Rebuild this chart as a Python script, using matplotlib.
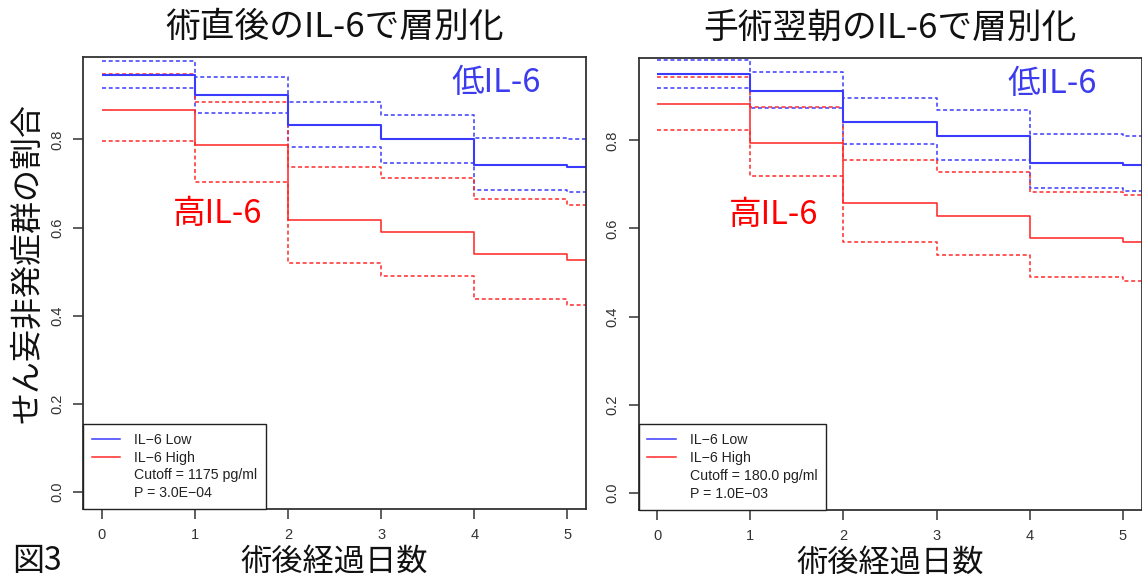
import matplotlib
matplotlib.use("Agg")
import matplotlib.pyplot as plt
from matplotlib.lines import Line2D

plt.rcParams['font.family'] = ['Noto Sans CJK JP', 'DejaVu Sans']

# ---- data ----
days = [0, 1, 2, 3, 4, 5, 5.3]

titles = ["術直後のIL-6で層別化", "手術翌朝のIL-6で層別化"]
cutoff_texts = ["Cutoff = 1175 pg/ml", "Cutoff = 180.0 pg/ml"]
p_texts = ["P = 3.0E\u221204", "P = 1.0E\u221203"]

# panel 1 (immediately after surgery)
p1_low = [0.947, 0.900, 0.832, 0.800, 0.743, 0.737]
p1_low_up = [0.978, 0.941, 0.885, 0.856, 0.804, 0.800]
p1_low_lo = [0.917, 0.861, 0.784, 0.747, 0.685, 0.680]
p1_high = [0.867, 0.788, 0.617, 0.591, 0.540, 0.526]
p1_high_up = [0.948, 0.886, 0.738, 0.713, 0.664, 0.651]
p1_high_lo = [0.796, 0.703, 0.519, 0.491, 0.438, 0.425]

# panel 2 (next morning)
p2_low = [0.951, 0.913, 0.842, 0.809, 0.749, 0.745]
p2_low_up = [0.982, 0.955, 0.896, 0.868, 0.814, 0.810]
p2_low_lo = [0.920, 0.873, 0.791, 0.755, 0.691, 0.686]
p2_high = [0.882, 0.794, 0.657, 0.629, 0.579, 0.570]
p2_high_up = [0.945, 0.876, 0.755, 0.729, 0.683, 0.675]
p2_high_lo = [0.823, 0.720, 0.570, 0.540, 0.489, 0.480]

yticks = [0.0, 0.2, 0.4, 0.6, 0.8]
xticks = [0, 1, 2, 3, 4, 5]

BLUE = '#3b3bff'
RED = '#ff2a2a'
TXT_BLUE = '#3c3cee'
TXT_RED = '#ff0000'

fig = plt.figure(figsize=(11.42, 5.80), dpi=100)
axes_pos = [[83/1142, 1-509/580, 503/1142, 452/580],
            [638.5/1142, 1-509.5/580, 503/1142, 451.5/580]]

panels = [
    (p1_low, p1_low_up, p1_low_lo, p1_high, p1_high_up, p1_high_lo),
    (p2_low, p2_low_up, p2_low_lo, p2_high, p2_high_up, p2_high_lo),
]

LAB_FONT = ['Liberation Sans', 'DejaVu Sans']

def stepline(ax, vals, color, lw, dashed=False):
    y = list(vals) + [vals[-1]]
    kw = dict(where='post', color=color, lw=lw, solid_capstyle='butt')
    if dashed:
        kw['linestyle'] = (0, (2.6, 1.8))
    ax.step(days, y, **kw)

for i, pos in enumerate(axes_pos):
    ax = fig.add_axes(pos)
    low, low_up, low_lo, high, high_up, high_lo = panels[i]
    stepline(ax, low_up, BLUE, 1.1, True)
    stepline(ax, low_lo, BLUE, 1.1, True)
    stepline(ax, high_up, RED, 1.1, True)
    stepline(ax, high_lo, RED, 1.1, True)
    stepline(ax, high, RED, 1.15)
    stepline(ax, low, BLUE, 1.5)

    ax.set_xlim(-0.2, 5.2)
    ax.set_ylim(-0.038, 0.987)
    ax.set_xticks(xticks)
    ax.set_xticklabels([str(t) for t in xticks], family=LAB_FONT, fontsize=10.5, color='#333333')
    ax.set_yticks(yticks)
    ax.set_yticklabels([f"{t:.1f}" for t in yticks], family=LAB_FONT, fontsize=10.5,
                       color='#333333', rotation=90, va='center')
    ax.tick_params(axis='x', length=7, width=1.1, color='#333333', pad=7)
    ax.tick_params(axis='y', length=7, width=1.1, color='#333333', pad=6.5)
    for s in ax.spines.values():
        s.set_color('#333333')
        s.set_linewidth(1.3)

    ax.text(0.5, 1 + (57 - 27) / 452, titles[i], transform=ax.transAxes,
            fontsize=25, ha='center', va='center', color='#111111')
    ax.set_xlabel("術後経過日数", fontsize=22.5, color='#111111', va='center')
    ax.xaxis.set_label_coords(0.5, -(562 - 509) / 452)

    ax.text(3.76, 0.929, "低IL-6", color=TXT_BLUE, fontsize=23.5, va='center', ha='left')
    ax.text(0.77, 0.630, "高IL-6", color=TXT_RED, fontsize=23.5, va='center', ha='left')

    handles = [Line2D([], [], color=BLUE, lw=1.1),
               Line2D([], [], color=RED, lw=1.1),
               Line2D([], [], color='none'),
               Line2D([], [], color='none')]
    labels = ["IL\u22126 Low", "IL\u22126 High", cutoff_texts[i], p_texts[i]]
    leg = ax.legend(handles, labels, loc='lower left', bbox_to_anchor=(0, 0),
                    borderaxespad=0, fancybox=False, framealpha=1,
                    edgecolor='#222222', prop={'family': LAB_FONT, 'size': 10.2},
                    handlelength=2.0, handletextpad=1.0, labelspacing=0.27,
                    borderpad=0.62)
    leg.get_frame().set_linewidth(1.0)
    for t in leg.get_texts():
        t.set_color('#222222')

    if i == 0:
        ax.set_ylabel("せん妄非発症群の割合", fontsize=23, color='#111111', va='center')
        ax.yaxis.set_label_coords(-(83 - 27) / 503, (509 - 263) / 452)

fig.text(12/1142, 1-561/580, "図3", fontsize=23, va='center', ha='left', color='#111111')

fig.savefig("out.png", dpi=100)
